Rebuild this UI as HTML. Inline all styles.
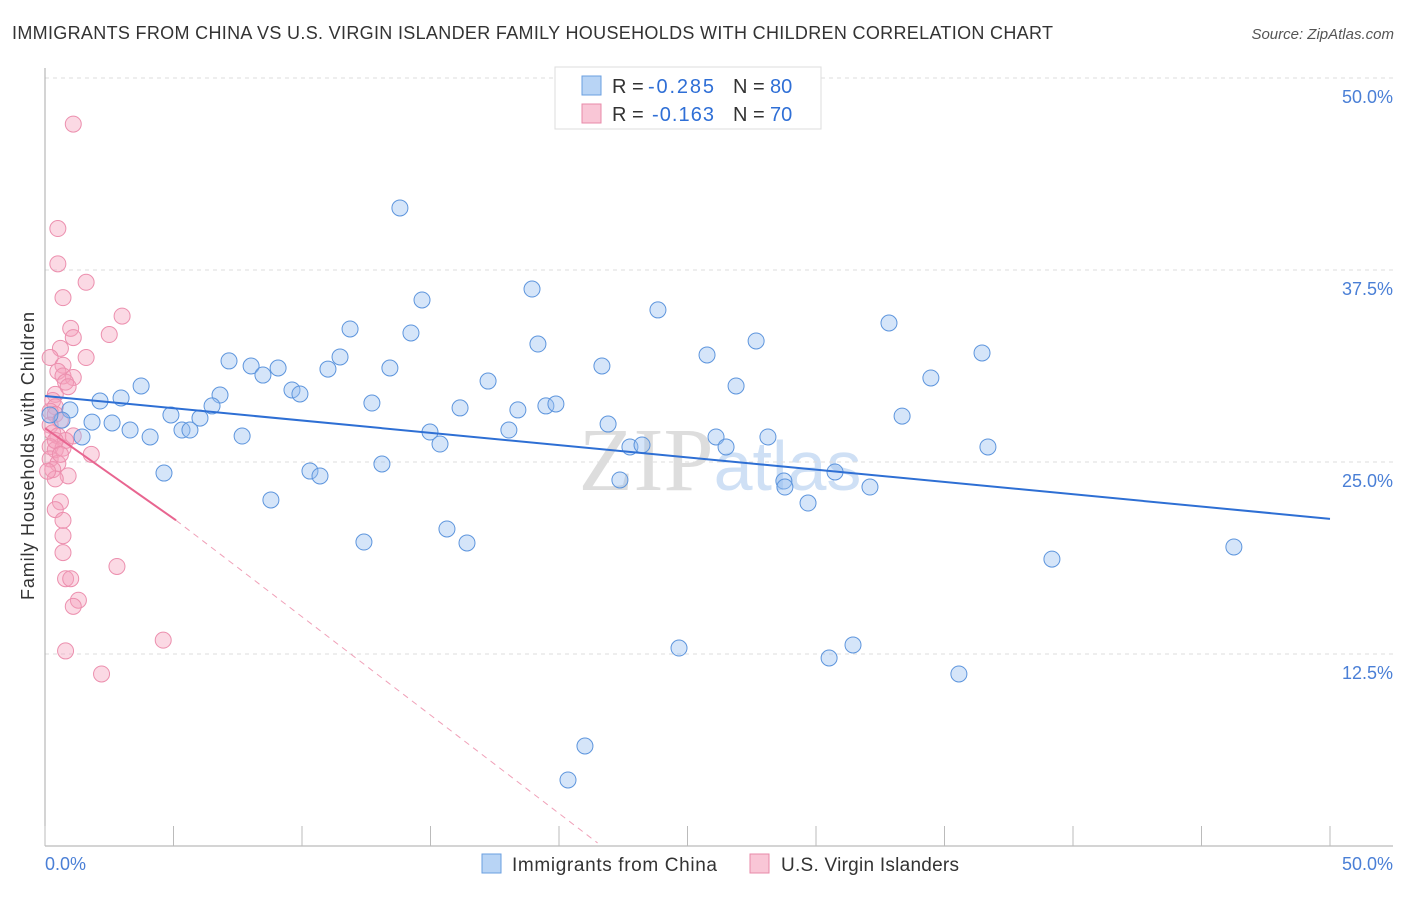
<!DOCTYPE html>
<html><head><meta charset="utf-8"><style>
body{margin:0;background:#fff;font-family:"Liberation Sans",sans-serif;}
</style></head><body>
<svg width="1406" height="892" xmlns="http://www.w3.org/2000/svg" font-family="Liberation Sans, sans-serif">
<text x="12" y="39" font-size="18" fill="#333" textLength="1041">IMMIGRANTS FROM CHINA VS U.S. VIRGIN ISLANDER FAMILY HOUSEHOLDS WITH CHILDREN CORRELATION CHART</text>
<text x="1394" y="39" font-size="15" fill="#555" font-style="italic" text-anchor="end">Source: ZipAtlas.com</text>
<text x="34" y="456" font-size="18" fill="#333" text-anchor="middle" textLength="288" transform="rotate(-90 34 456)">Family Households with Children</text>
<text x="720" y="490" font-size="90" fill="#ddd" text-anchor="middle" font-family="Liberation Serif, serif">ZIP<tspan fill="#cfe0f5" font-family="Liberation Sans, sans-serif" font-size="70">atlas</tspan></text>
<g id="grid"></g><g id="axes"></g><g id="pts"></g><g id="trend"></g>
<g>
<rect x="555" y="67" width="266" height="62" fill="#fff" stroke="#ddd"/>
<rect x="582" y="76" width="19" height="19" fill="#b8d4f5" stroke="#6a9fe0"/>
<rect x="582" y="104" width="19" height="19" fill="#f9c6d6" stroke="#e88aa8"/>
<text x="612" y="93" font-size="20" fill="#333">R =</text>
<text x="648" y="93" font-size="20" fill="#2f6fd6" textLength="66">-0.285</text>
<text x="733" y="93" font-size="20" fill="#333">N =</text>
<text x="770" y="93" font-size="20" fill="#2f6fd6">80</text>
<text x="612" y="121" font-size="20" fill="#333">R =</text>
<text x="652" y="121" font-size="20" fill="#2f6fd6" textLength="62">-0.163</text>
<text x="733" y="121" font-size="20" fill="#333">N =</text>
<text x="770" y="121" font-size="20" fill="#2f6fd6">70</text>
</g>
<g>
<rect x="482" y="854" width="19" height="19" fill="#b8d4f5" stroke="#6a9fe0"/>
<text x="512" y="871" font-size="19" fill="#333" textLength="205">Immigrants from China</text>
<rect x="750" y="854" width="19" height="19" fill="#f9c6d6" stroke="#e88aa8"/>
<text x="781" y="871" font-size="19" fill="#333" textLength="178">U.S. Virgin Islanders</text>
</g>
<text x="45" y="870" font-size="18" fill="#4a7fd6">0.0%</text>
<text x="1393" y="870" font-size="18" fill="#4a7fd6" text-anchor="end">50.0%</text>
</svg>
<script>
const yTicks=[12.5,25,37.5,50];
const yTickLabels=["12.5%","25.0%","37.5%","50.0%"];
const chinaX=[13.81,18.95,14.67,23.85,32.84,11.87,14.24,19.18,27.67,36.46,25.76,7.16,11.48,8.02,9.07,21.67,8.48,11.01,13.42,34.47,17.24,26.89,3.74,9.61,9.92,6.81,2.96,2.14,12.72,16.15,19.49,19.88,18.40,33.35,6.50,4.90,6.03,0.97,0.66,1.83,2.61,21.91,14.98,18.05,3.31,5.33,5.64,4.09,1.44,7.67,26.11,28.13,15.37,22.76,23.23,26.50,36.69,13.11,4.63,10.31,10.70,30.74,22.37,28.75,28.79,32.10,8.79,29.69,15.64,12.41,16.42,39.18,46.26,24.67,31.44,30.51,35.56,21.01,20.35,0.19];
const chinaY=[41.54,36.26,35.55,34.90,34.05,33.66,33.40,32.68,32.88,32.10,31.97,31.58,31.84,31.25,31.12,31.25,30.66,31.05,31.12,30.47,30.27,29.95,29.95,29.69,29.43,29.36,29.17,28.97,28.84,28.52,28.65,28.78,28.39,27.99,28.65,28.06,27.86,28.39,27.73,27.60,27.54,27.47,26.95,27.08,27.08,27.08,27.08,26.63,26.63,26.69,26.63,26.63,26.17,25.98,26.11,25.98,25.98,24.87,24.28,24.41,24.09,24.35,23.83,23.76,23.37,23.37,22.53,22.33,20.64,19.79,19.73,18.68,19.47,12.89,13.09,12.24,11.20,6.51,4.30,28.06];
const viX=[1.1,0.5,0.5,1.6,0.7,3.0,1.0,2.5,1.1,0.6,1.6,0.2,0.7,0.5,0.7,1.1,0.8,0.9,0.4,0.3,0.4,0.2,0.4,0.6,0.2,0.3,0.5,1.1,0.8,0.2,0.4,0.7,1.8,0.2,0.5,0.3,0.9,0.4,0.6,0.4,0.7,0.7,0.7,2.8,0.8,1.0,1.3,1.1,0.8,4.6,2.2,0.4,0.1,0.6];
const viY=[47.0,40.2,37.9,36.7,35.7,34.5,33.7,33.3,33.1,32.4,31.8,31.8,31.3,30.9,30.6,30.5,30.2,29.9,29.4,29.0,28.6,28.3,28.1,27.7,27.4,26.9,26.7,26.7,26.4,26.0,25.8,25.9,25.5,25.2,24.9,24.5,24.1,23.9,22.4,21.9,21.2,20.2,19.1,18.2,17.4,17.4,16.0,15.6,12.7,13.4,11.2,26.4,24.4,25.5];
const chinaTrend=[0,29.3,50,21.3];
const viTrendSolid=[0,27.2,5.1,21.2];
const viTrendDash=[5.1,21.2,21.5,0.2];
const NS="http://www.w3.org/2000/svg";
const xs=v=>45+v/50*1285, ys=v=>846-v/50*768;
function mk(t,a,p){const e=document.createElementNS(NS,t);for(const k in a)e.setAttribute(k,a[k]);document.getElementById(p).appendChild(e);return e;}
yTicks.forEach((t,i)=>{
 const l=mk('line',{x1:45,x2:1393,y1:ys(t),y2:ys(t),stroke:'#ddd','stroke-dasharray':'4,4'},'grid');
 
 
 const tx=mk('text',{x:1393,y:ys(t)+25,'font-size':18,fill:'#4a7fd6','text-anchor':'end'},'grid');
 tx.textContent=yTickLabels[i];
 
 
});
const ax=mk('line',{x1:45,x2:45,y1:68,y2:846,stroke:'#aaa'},'axes');


const bx=mk('line',{x1:45,x2:1393,y1:846,y2:846,stroke:'#aaa'},'axes');


for(let i=0;i<=10;i++){const t=mk('line',{x1:xs(i*5),x2:xs(i*5),y1:826,y2:846,stroke:'#bbb'},'axes');
 
 }
viX.forEach((v,i)=>{const c=mk('circle',{cx:xs(v),cy:ys(viY[i]),r:8,fill:'rgba(244,160,188,0.4)',stroke:'#ec8fae','stroke-width':1},'pts');
 
 });
chinaX.forEach((v,i)=>{const c=mk('circle',{cx:xs(v),cy:ys(chinaY[i]),r:8,fill:'rgba(150,190,240,0.4)',stroke:'#5d95dd','stroke-width':1},'pts');
 
 });
const t1=mk('line',{x1:xs(chinaTrend[0]),y1:ys(chinaTrend[1]),x2:xs(chinaTrend[2]),y2:ys(chinaTrend[3]),stroke:'#2e6fd4','stroke-width':2},'trend');


const t2=mk('line',{x1:xs(viTrendSolid[0]),y1:ys(viTrendSolid[1]),x2:xs(viTrendSolid[2]),y2:ys(viTrendSolid[3]),stroke:'#e86590','stroke-width':2},'trend');


const t3=mk('line',{x1:xs(viTrendDash[0]),y1:ys(viTrendDash[1]),x2:xs(viTrendDash[2]),y2:ys(viTrendDash[3]),stroke:'#f0a0b8','stroke-width':1,'stroke-dasharray':'6,5'},'trend');


</script>
</body></html>
